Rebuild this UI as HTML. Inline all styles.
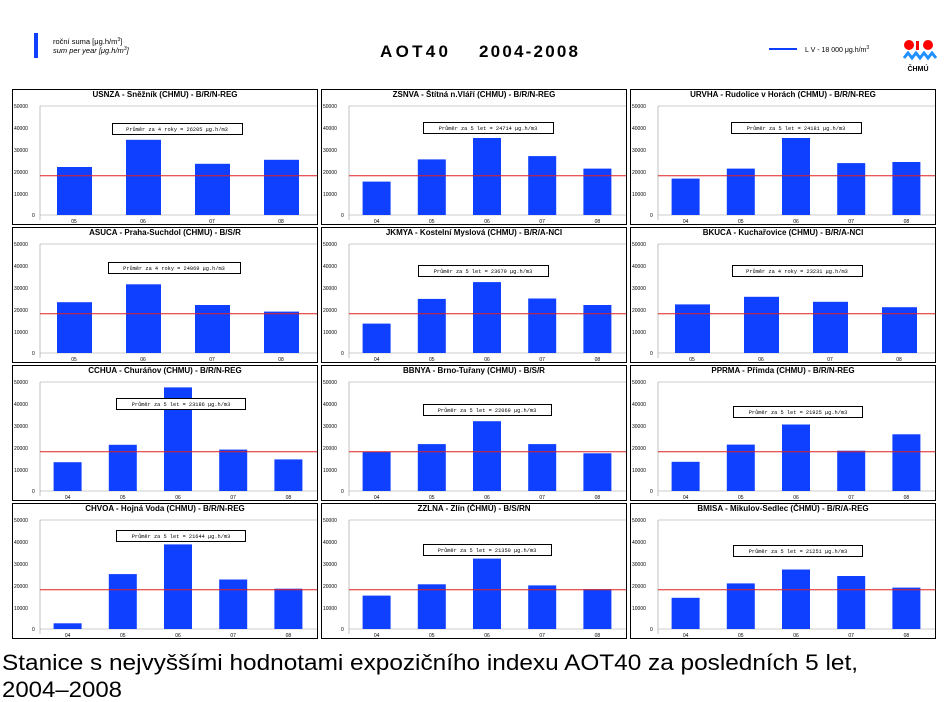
<!DOCTYPE html>
<html><head><meta charset="utf-8"><style>
body{margin:0;background:#fff}
svg{display:block;font-family:"Liberation Sans",sans-serif}
.t{font-size:8px;font-weight:bold;text-anchor:middle}
.y{font-size:5px;fill:#000}
.x{font-size:5px;text-anchor:middle}
.m{font-family:"Liberation Mono",monospace;font-size:5.3px;text-anchor:middle}
.b{fill:#1040ff}
</style></head><body>
<svg width="950" height="702" viewBox="0 0 950 702">
<rect x="34" y="33" width="4" height="25" fill="#1040ff"/>
<text x="53" y="44" font-size="7.5">roční suma [μg.h/m<tspan font-size="5" dy="-3">3</tspan><tspan dy="3">]</tspan></text>
<text x="53" y="53" font-size="7.5" font-style="italic">sum per year [μg.h/m<tspan font-size="5" dy="-3">3</tspan><tspan dy="3">]</tspan></text>
<text x="380" y="57" font-size="17" font-weight="bold" textLength="68">AOT40</text>
<text x="479" y="57" font-size="17" font-weight="bold" textLength="99">2004-2008</text>
<line x1="769" y1="49" x2="797" y2="49" stroke="#1040ff" stroke-width="2"/>
<text x="805" y="52" font-size="7">L V   - 18 000 μg.h/m<tspan font-size="5" dy="-3">3</tspan></text>
<circle cx="909" cy="45" r="5" fill="#f00"/><circle cx="928" cy="45" r="5" fill="#f00"/><rect x="916" y="41" width="3" height="9" fill="#f00"/>
<path d="M904 58 l4-5 4 5 4-5 4 5 4-5 4 5 4-5 4 5" stroke="#2090ff" stroke-width="3" fill="none"/>
<text x="918" y="71" font-size="7" font-weight="bold" text-anchor="middle">ČHMÚ</text>

<defs></defs>
<!-- panels -->
<g id="p1" transform="translate(12,89)">
<rect x="0.5" y="0.5" width="305" height="135" fill="#fff" stroke="#000"/>
<text class="t" x="153" y="8">USNZA - Sněžník (CHMU) - B/R/N-REG</text>
<line x1="28" y1="17" x2="305" y2="17" stroke="#999" stroke-width=".6"/><line x1="28" y1="17" x2="28" y2="131" stroke="#999" stroke-width=".6"/><line x1="28" y1="126" x2="305" y2="126" stroke="#999" stroke-width=".6"/>
<text class="y" x="2" y="19">50000</text><text class="y" x="2" y="41">40000</text><text class="y" x="2" y="63">30000</text><text class="y" x="2" y="85">20000</text><text class="y" x="2" y="107">10000</text><text class="y" x="20" y="128">0</text>
<rect class="b" x="45" y="78" width="35" height="48"/><rect class="b" x="114" y="50.8" width="35" height="75.2"/><rect class="b" x="183" y="74.8" width="35" height="51.2"/><rect class="b" x="252" y="70.8" width="35" height="55.2"/>
<line x1="28" y1="86.8" x2="305" y2="86.8" stroke="#e02020"/>
<rect x="100.5" y="34.5" width="130" height="11" fill="#fff" stroke="#000"/><text class="m" x="165" y="42">Průměr za 4 roky = 26205 μg.h/m3</text>
<text class="x" x="62" y="134">05</text><text class="x" x="131" y="134">06</text><text class="x" x="200" y="134">07</text><text class="x" x="269" y="134">08</text>
</g>
<g transform="translate(321,89)">
<rect x="0.5" y="0.5" width="305" height="135" fill="#fff" stroke="#000"/>
<text class="t" x="153" y="8">ZSNVA - Štítná n.Vláří (CHMU) - B/R/N-REG</text>
<line x1="28" y1="17" x2="305" y2="17" stroke="#999" stroke-width=".6"/><line x1="28" y1="17" x2="28" y2="131" stroke="#999" stroke-width=".6"/><line x1="28" y1="126" x2="305" y2="126" stroke="#999" stroke-width=".6"/>
<text class="y" x="2" y="19">50000</text><text class="y" x="2" y="41">40000</text><text class="y" x="2" y="63">30000</text><text class="y" x="2" y="85">20000</text><text class="y" x="2" y="107">10000</text><text class="y" x="20" y="128">0</text>
<rect class="b" x="41.6" y="92.6" width="28" height="33.4"/><rect class="b" x="96.8" y="70.4" width="28" height="55.6"/><rect class="b" x="152" y="49" width="28" height="77"/><rect class="b" x="207.2" y="67.1" width="28" height="58.9"/><rect class="b" x="262.4" y="79.6" width="28" height="46.4"/>
<line x1="28" y1="86.8" x2="305" y2="86.8" stroke="#e02020"/>
<rect x="102.5" y="33.5" width="130" height="11" fill="#fff" stroke="#000"/><text class="m" x="167" y="41">Průměr za 5 let = 24714 μg.h/m3</text>
<text class="x" x="55.6" y="134">04</text><text class="x" x="110.8" y="134">05</text><text class="x" x="166" y="134">06</text><text class="x" x="221.2" y="134">07</text><text class="x" x="276.4" y="134">08</text>
</g>
<g transform="translate(630,89)">
<rect x="0.5" y="0.5" width="305" height="135" fill="#fff" stroke="#000"/>
<text class="t" x="153" y="8">URVHA - Rudolice v Horách (CHMU) - B/R/N-REG</text>
<line x1="28" y1="17" x2="305" y2="17" stroke="#999" stroke-width=".6"/><line x1="28" y1="17" x2="28" y2="131" stroke="#999" stroke-width=".6"/><line x1="28" y1="126" x2="305" y2="126" stroke="#999" stroke-width=".6"/>
<text class="y" x="2" y="19">50000</text><text class="y" x="2" y="41">40000</text><text class="y" x="2" y="63">30000</text><text class="y" x="2" y="85">20000</text><text class="y" x="2" y="107">10000</text><text class="y" x="20" y="128">0</text>
<rect class="b" x="41.6" y="89.6" width="28" height="36.4"/><rect class="b" x="96.8" y="79.6" width="28" height="46.4"/><rect class="b" x="152" y="49" width="28" height="77"/><rect class="b" x="207.2" y="74.1" width="28" height="51.9"/><rect class="b" x="262.4" y="73" width="28" height="53"/>
<line x1="28" y1="86.8" x2="305" y2="86.8" stroke="#e02020"/>
<rect x="101.5" y="33.5" width="130" height="11" fill="#fff" stroke="#000"/><text class="m" x="166" y="41">Průměr za 5 let = 24181 μg.h/m3</text>
<text class="x" x="55.6" y="134">04</text><text class="x" x="110.8" y="134">05</text><text class="x" x="166" y="134">06</text><text class="x" x="221.2" y="134">07</text><text class="x" x="276.4" y="134">08</text>
</g>

<g transform="translate(12,227)">
<rect x="0.5" y="0.5" width="305" height="135" fill="#fff" stroke="#000"/>
<text class="t" x="153" y="8">ASUCA - Praha-Suchdol (CHMU) - B/S/R</text>
<line x1="28" y1="17" x2="305" y2="17" stroke="#999" stroke-width=".6"/><line x1="28" y1="17" x2="28" y2="131" stroke="#999" stroke-width=".6"/><line x1="28" y1="126" x2="305" y2="126" stroke="#999" stroke-width=".6"/>
<text class="y" x="2" y="19">50000</text><text class="y" x="2" y="41">40000</text><text class="y" x="2" y="63">30000</text><text class="y" x="2" y="85">20000</text><text class="y" x="2" y="107">10000</text><text class="y" x="20" y="128">0</text>
<rect class="b" x="45" y="75.2" width="35" height="50.8"/><rect class="b" x="114" y="57.3" width="35" height="68.7"/><rect class="b" x="183" y="78" width="35" height="48"/><rect class="b" x="252" y="84.6" width="35" height="41.4"/>
<line x1="28" y1="86.8" x2="305" y2="86.8" stroke="#e02020"/>
<rect x="96.5" y="35.5" width="132" height="11" fill="#fff" stroke="#000"/><text class="m" x="162" y="43">Průměr za 4 roky = 24069 μg.h/m3</text>
<text class="x" x="62" y="134">05</text><text class="x" x="131" y="134">06</text><text class="x" x="200" y="134">07</text><text class="x" x="269" y="134">08</text>
</g>
<g transform="translate(321,227)">
<rect x="0.5" y="0.5" width="305" height="135" fill="#fff" stroke="#000"/>
<text class="t" x="153" y="8">JKMYA - Kostelní Myslová (CHMU) - B/R/A-NCI</text>
<line x1="28" y1="17" x2="305" y2="17" stroke="#999" stroke-width=".6"/><line x1="28" y1="17" x2="28" y2="131" stroke="#999" stroke-width=".6"/><line x1="28" y1="126" x2="305" y2="126" stroke="#999" stroke-width=".6"/>
<text class="y" x="2" y="19">50000</text><text class="y" x="2" y="41">40000</text><text class="y" x="2" y="63">30000</text><text class="y" x="2" y="85">20000</text><text class="y" x="2" y="107">10000</text><text class="y" x="20" y="128">0</text>
<rect class="b" x="41.6" y="96.6" width="28" height="29.4"/><rect class="b" x="96.8" y="71.9" width="28" height="54.1"/><rect class="b" x="152" y="55.1" width="28" height="70.9"/><rect class="b" x="207.2" y="71.5" width="28" height="54.5"/><rect class="b" x="262.4" y="78" width="28" height="48"/>
<line x1="28" y1="86.8" x2="305" y2="86.8" stroke="#e02020"/>
<rect x="97.5" y="38.5" width="130" height="11" fill="#fff" stroke="#000"/><text class="m" x="162" y="46">Průměr za 5 let = 23679 μg.h/m3</text>
<text class="x" x="55.6" y="134">04</text><text class="x" x="110.8" y="134">05</text><text class="x" x="166" y="134">06</text><text class="x" x="221.2" y="134">07</text><text class="x" x="276.4" y="134">08</text>
</g>
<g transform="translate(630,227)">
<rect x="0.5" y="0.5" width="305" height="135" fill="#fff" stroke="#000"/>
<text class="t" x="153" y="8">BKUCA - Kuchařovice (CHMU) - B/R/A-NCI</text>
<line x1="28" y1="17" x2="305" y2="17" stroke="#999" stroke-width=".6"/><line x1="28" y1="17" x2="28" y2="131" stroke="#999" stroke-width=".6"/><line x1="28" y1="126" x2="305" y2="126" stroke="#999" stroke-width=".6"/>
<text class="y" x="2" y="19">50000</text><text class="y" x="2" y="41">40000</text><text class="y" x="2" y="63">30000</text><text class="y" x="2" y="85">20000</text><text class="y" x="2" y="107">10000</text><text class="y" x="20" y="128">0</text>
<rect class="b" x="45" y="77.4" width="35" height="48.6"/><rect class="b" x="114" y="69.8" width="35" height="56.2"/><rect class="b" x="183" y="74.8" width="35" height="51.2"/><rect class="b" x="252" y="80.2" width="35" height="45.8"/>
<line x1="28" y1="86.8" x2="305" y2="86.8" stroke="#e02020"/>
<rect x="102.5" y="38.5" width="130" height="11" fill="#fff" stroke="#000"/><text class="m" x="167" y="46">Průměr za 4 roky = 23231 μg.h/m3</text>
<text class="x" x="62" y="134">05</text><text class="x" x="131" y="134">06</text><text class="x" x="200" y="134">07</text><text class="x" x="269" y="134">08</text>
</g>

<g transform="translate(12,365)">
<rect x="0.5" y="0.5" width="305" height="135" fill="#fff" stroke="#000"/>
<text class="t" x="153" y="8">CCHUA - Churáňov (CHMU) - B/R/N-REG</text>
<line x1="28" y1="17" x2="305" y2="17" stroke="#999" stroke-width=".6"/><line x1="28" y1="17" x2="28" y2="131" stroke="#999" stroke-width=".6"/><line x1="28" y1="126" x2="305" y2="126" stroke="#999" stroke-width=".6"/>
<text class="y" x="2" y="19">50000</text><text class="y" x="2" y="41">40000</text><text class="y" x="2" y="63">30000</text><text class="y" x="2" y="85">20000</text><text class="y" x="2" y="107">10000</text><text class="y" x="20" y="128">0</text>
<rect class="b" x="41.6" y="97.2" width="28" height="28.8"/><rect class="b" x="96.8" y="79.8" width="28" height="46.2"/><rect class="b" x="152" y="22.4" width="28" height="103.6"/><rect class="b" x="207.2" y="84.6" width="28" height="41.4"/><rect class="b" x="262.4" y="94.4" width="28" height="31.6"/>
<line x1="28" y1="86.8" x2="305" y2="86.8" stroke="#e02020"/>
<rect x="104.5" y="33.5" width="129" height="11" fill="#fff" stroke="#000"/><text class="m" x="169" y="41">Průměr za 5 let = 23186 μg.h/m3</text>
<text class="x" x="55.6" y="134">04</text><text class="x" x="110.8" y="134">05</text><text class="x" x="166" y="134">06</text><text class="x" x="221.2" y="134">07</text><text class="x" x="276.4" y="134">08</text>
</g>
<g transform="translate(321,365)">
<rect x="0.5" y="0.5" width="305" height="135" fill="#fff" stroke="#000"/>
<text class="t" x="153" y="8">BBNYA - Brno-Tuřany (CHMU) - B/S/R</text>
<line x1="28" y1="17" x2="305" y2="17" stroke="#999" stroke-width=".6"/><line x1="28" y1="17" x2="28" y2="131" stroke="#999" stroke-width=".6"/><line x1="28" y1="126" x2="305" y2="126" stroke="#999" stroke-width=".6"/>
<text class="y" x="2" y="19">50000</text><text class="y" x="2" y="41">40000</text><text class="y" x="2" y="63">30000</text><text class="y" x="2" y="85">20000</text><text class="y" x="2" y="107">10000</text><text class="y" x="20" y="128">0</text>
<rect class="b" x="41.6" y="86.8" width="28" height="39.2"/><rect class="b" x="96.8" y="79.1" width="28" height="46.9"/><rect class="b" x="152" y="56.2" width="28" height="69.8"/><rect class="b" x="207.2" y="79.1" width="28" height="46.9"/><rect class="b" x="262.4" y="88.3" width="28" height="37.7"/>
<line x1="28" y1="86.8" x2="305" y2="86.8" stroke="#e02020"/>
<rect x="102.5" y="39.5" width="128" height="11" fill="#fff" stroke="#000"/><text class="m" x="166" y="47">Průměr za 5 let = 22069 μg.h/m3</text>
<text class="x" x="55.6" y="134">04</text><text class="x" x="110.8" y="134">05</text><text class="x" x="166" y="134">06</text><text class="x" x="221.2" y="134">07</text><text class="x" x="276.4" y="134">08</text>
</g>
<g transform="translate(630,365)">
<rect x="0.5" y="0.5" width="305" height="135" fill="#fff" stroke="#000"/>
<text class="t" x="153" y="8">PPRMA - Přimda (CHMU) - B/R/N-REG</text>
<line x1="28" y1="17" x2="305" y2="17" stroke="#999" stroke-width=".6"/><line x1="28" y1="17" x2="28" y2="131" stroke="#999" stroke-width=".6"/><line x1="28" y1="126" x2="305" y2="126" stroke="#999" stroke-width=".6"/>
<text class="y" x="2" y="19">50000</text><text class="y" x="2" y="41">40000</text><text class="y" x="2" y="63">30000</text><text class="y" x="2" y="85">20000</text><text class="y" x="2" y="107">10000</text><text class="y" x="20" y="128">0</text>
<rect class="b" x="41.6" y="96.8" width="28" height="29.2"/><rect class="b" x="96.8" y="79.6" width="28" height="46.4"/><rect class="b" x="152" y="59.5" width="28" height="66.5"/><rect class="b" x="207.2" y="85.7" width="28" height="40.3"/><rect class="b" x="262.4" y="69.3" width="28" height="56.7"/>
<line x1="28" y1="86.8" x2="305" y2="86.8" stroke="#e02020"/>
<rect x="103.5" y="41.5" width="129" height="11" fill="#fff" stroke="#000"/><text class="m" x="168" y="49">Průměr za 5 let = 21925 μg.h/m3</text>
<text class="x" x="55.6" y="134">04</text><text class="x" x="110.8" y="134">05</text><text class="x" x="166" y="134">06</text><text class="x" x="221.2" y="134">07</text><text class="x" x="276.4" y="134">08</text>
</g>

<g transform="translate(12,503)">
<rect x="0.5" y="0.5" width="305" height="135" fill="#fff" stroke="#000"/>
<text class="t" x="153" y="8">CHVOA - Hojná Voda (CHMU) - B/R/N-REG</text>
<line x1="28" y1="17" x2="305" y2="17" stroke="#999" stroke-width=".6"/><line x1="28" y1="17" x2="28" y2="131" stroke="#999" stroke-width=".6"/><line x1="28" y1="126" x2="305" y2="126" stroke="#999" stroke-width=".6"/>
<text class="y" x="2" y="19">50000</text><text class="y" x="2" y="41">40000</text><text class="y" x="2" y="63">30000</text><text class="y" x="2" y="85">20000</text><text class="y" x="2" y="107">10000</text><text class="y" x="20" y="128">0</text>
<rect class="b" x="41.6" y="120.3" width="28" height="5.7"/><rect class="b" x="96.8" y="71.1" width="28" height="54.9"/><rect class="b" x="152" y="41.4" width="28" height="84.6"/><rect class="b" x="207.2" y="76.5" width="28" height="49.5"/><rect class="b" x="262.4" y="85.7" width="28" height="40.3"/>
<line x1="28" y1="86.8" x2="305" y2="86.8" stroke="#e02020"/>
<rect x="104.5" y="27.5" width="129" height="11" fill="#fff" stroke="#000"/><text class="m" x="169" y="35">Průměr za 5 let = 21644 μg.h/m3</text>
<text class="x" x="55.6" y="134">04</text><text class="x" x="110.8" y="134">05</text><text class="x" x="166" y="134">06</text><text class="x" x="221.2" y="134">07</text><text class="x" x="276.4" y="134">08</text>
</g>
<g transform="translate(321,503)">
<rect x="0.5" y="0.5" width="305" height="135" fill="#fff" stroke="#000"/>
<text class="t" x="153" y="8">ZZLNA - Zlín (ČHMÚ) - B/S/RN</text>
<line x1="28" y1="17" x2="305" y2="17" stroke="#999" stroke-width=".6"/><line x1="28" y1="17" x2="28" y2="131" stroke="#999" stroke-width=".6"/><line x1="28" y1="126" x2="305" y2="126" stroke="#999" stroke-width=".6"/>
<text class="y" x="2" y="19">50000</text><text class="y" x="2" y="41">40000</text><text class="y" x="2" y="63">30000</text><text class="y" x="2" y="85">20000</text><text class="y" x="2" y="107">10000</text><text class="y" x="20" y="128">0</text>
<rect class="b" x="41.6" y="92.6" width="28" height="33.4"/><rect class="b" x="96.8" y="81.3" width="28" height="44.7"/><rect class="b" x="152" y="55.6" width="28" height="70.4"/><rect class="b" x="207.2" y="82.4" width="28" height="43.6"/><rect class="b" x="262.4" y="86.1" width="28" height="39.9"/>
<line x1="28" y1="86.8" x2="305" y2="86.8" stroke="#e02020"/>
<rect x="102.5" y="41.5" width="128" height="11" fill="#fff" stroke="#000"/><text class="m" x="166" y="49">Průměr za 5 let = 21350 μg.h/m3</text>
<text class="x" x="55.6" y="134">04</text><text class="x" x="110.8" y="134">05</text><text class="x" x="166" y="134">06</text><text class="x" x="221.2" y="134">07</text><text class="x" x="276.4" y="134">08</text>
</g>
<g transform="translate(630,503)">
<rect x="0.5" y="0.5" width="305" height="135" fill="#fff" stroke="#000"/>
<text class="t" x="153" y="8">BMISA - Mikulov-Sedlec (ČHMÚ) - B/R/A-REG</text>
<line x1="28" y1="17" x2="305" y2="17" stroke="#999" stroke-width=".6"/><line x1="28" y1="17" x2="28" y2="131" stroke="#999" stroke-width=".6"/><line x1="28" y1="126" x2="305" y2="126" stroke="#999" stroke-width=".6"/>
<text class="y" x="2" y="19">50000</text><text class="y" x="2" y="41">40000</text><text class="y" x="2" y="63">30000</text><text class="y" x="2" y="85">20000</text><text class="y" x="2" y="107">10000</text><text class="y" x="20" y="128">0</text>
<rect class="b" x="41.6" y="94.8" width="28" height="31.2"/><rect class="b" x="96.8" y="80.4" width="28" height="45.6"/><rect class="b" x="152" y="66.5" width="28" height="59.5"/><rect class="b" x="207.2" y="73" width="28" height="53"/><rect class="b" x="262.4" y="84.6" width="28" height="41.4"/>
<line x1="28" y1="86.8" x2="305" y2="86.8" stroke="#e02020"/>
<rect x="103.5" y="42.5" width="129" height="11" fill="#fff" stroke="#000"/><text class="m" x="168" y="50">Průměr za 5 let = 21251 μg.h/m3</text>
<text class="x" x="55.6" y="134">04</text><text class="x" x="110.8" y="134">05</text><text class="x" x="166" y="134">06</text><text class="x" x="221.2" y="134">07</text><text class="x" x="276.4" y="134">08</text>
</g>

<text x="2" y="670" font-size="22" textLength="856" lengthAdjust="spacingAndGlyphs">Stanice s nejvyššími hodnotami expozičního indexu AOT40 za posledních 5 let,</text>
<text x="2" y="697" font-size="22" textLength="120" lengthAdjust="spacingAndGlyphs">2004–2008</text>
</svg>
</body></html>
